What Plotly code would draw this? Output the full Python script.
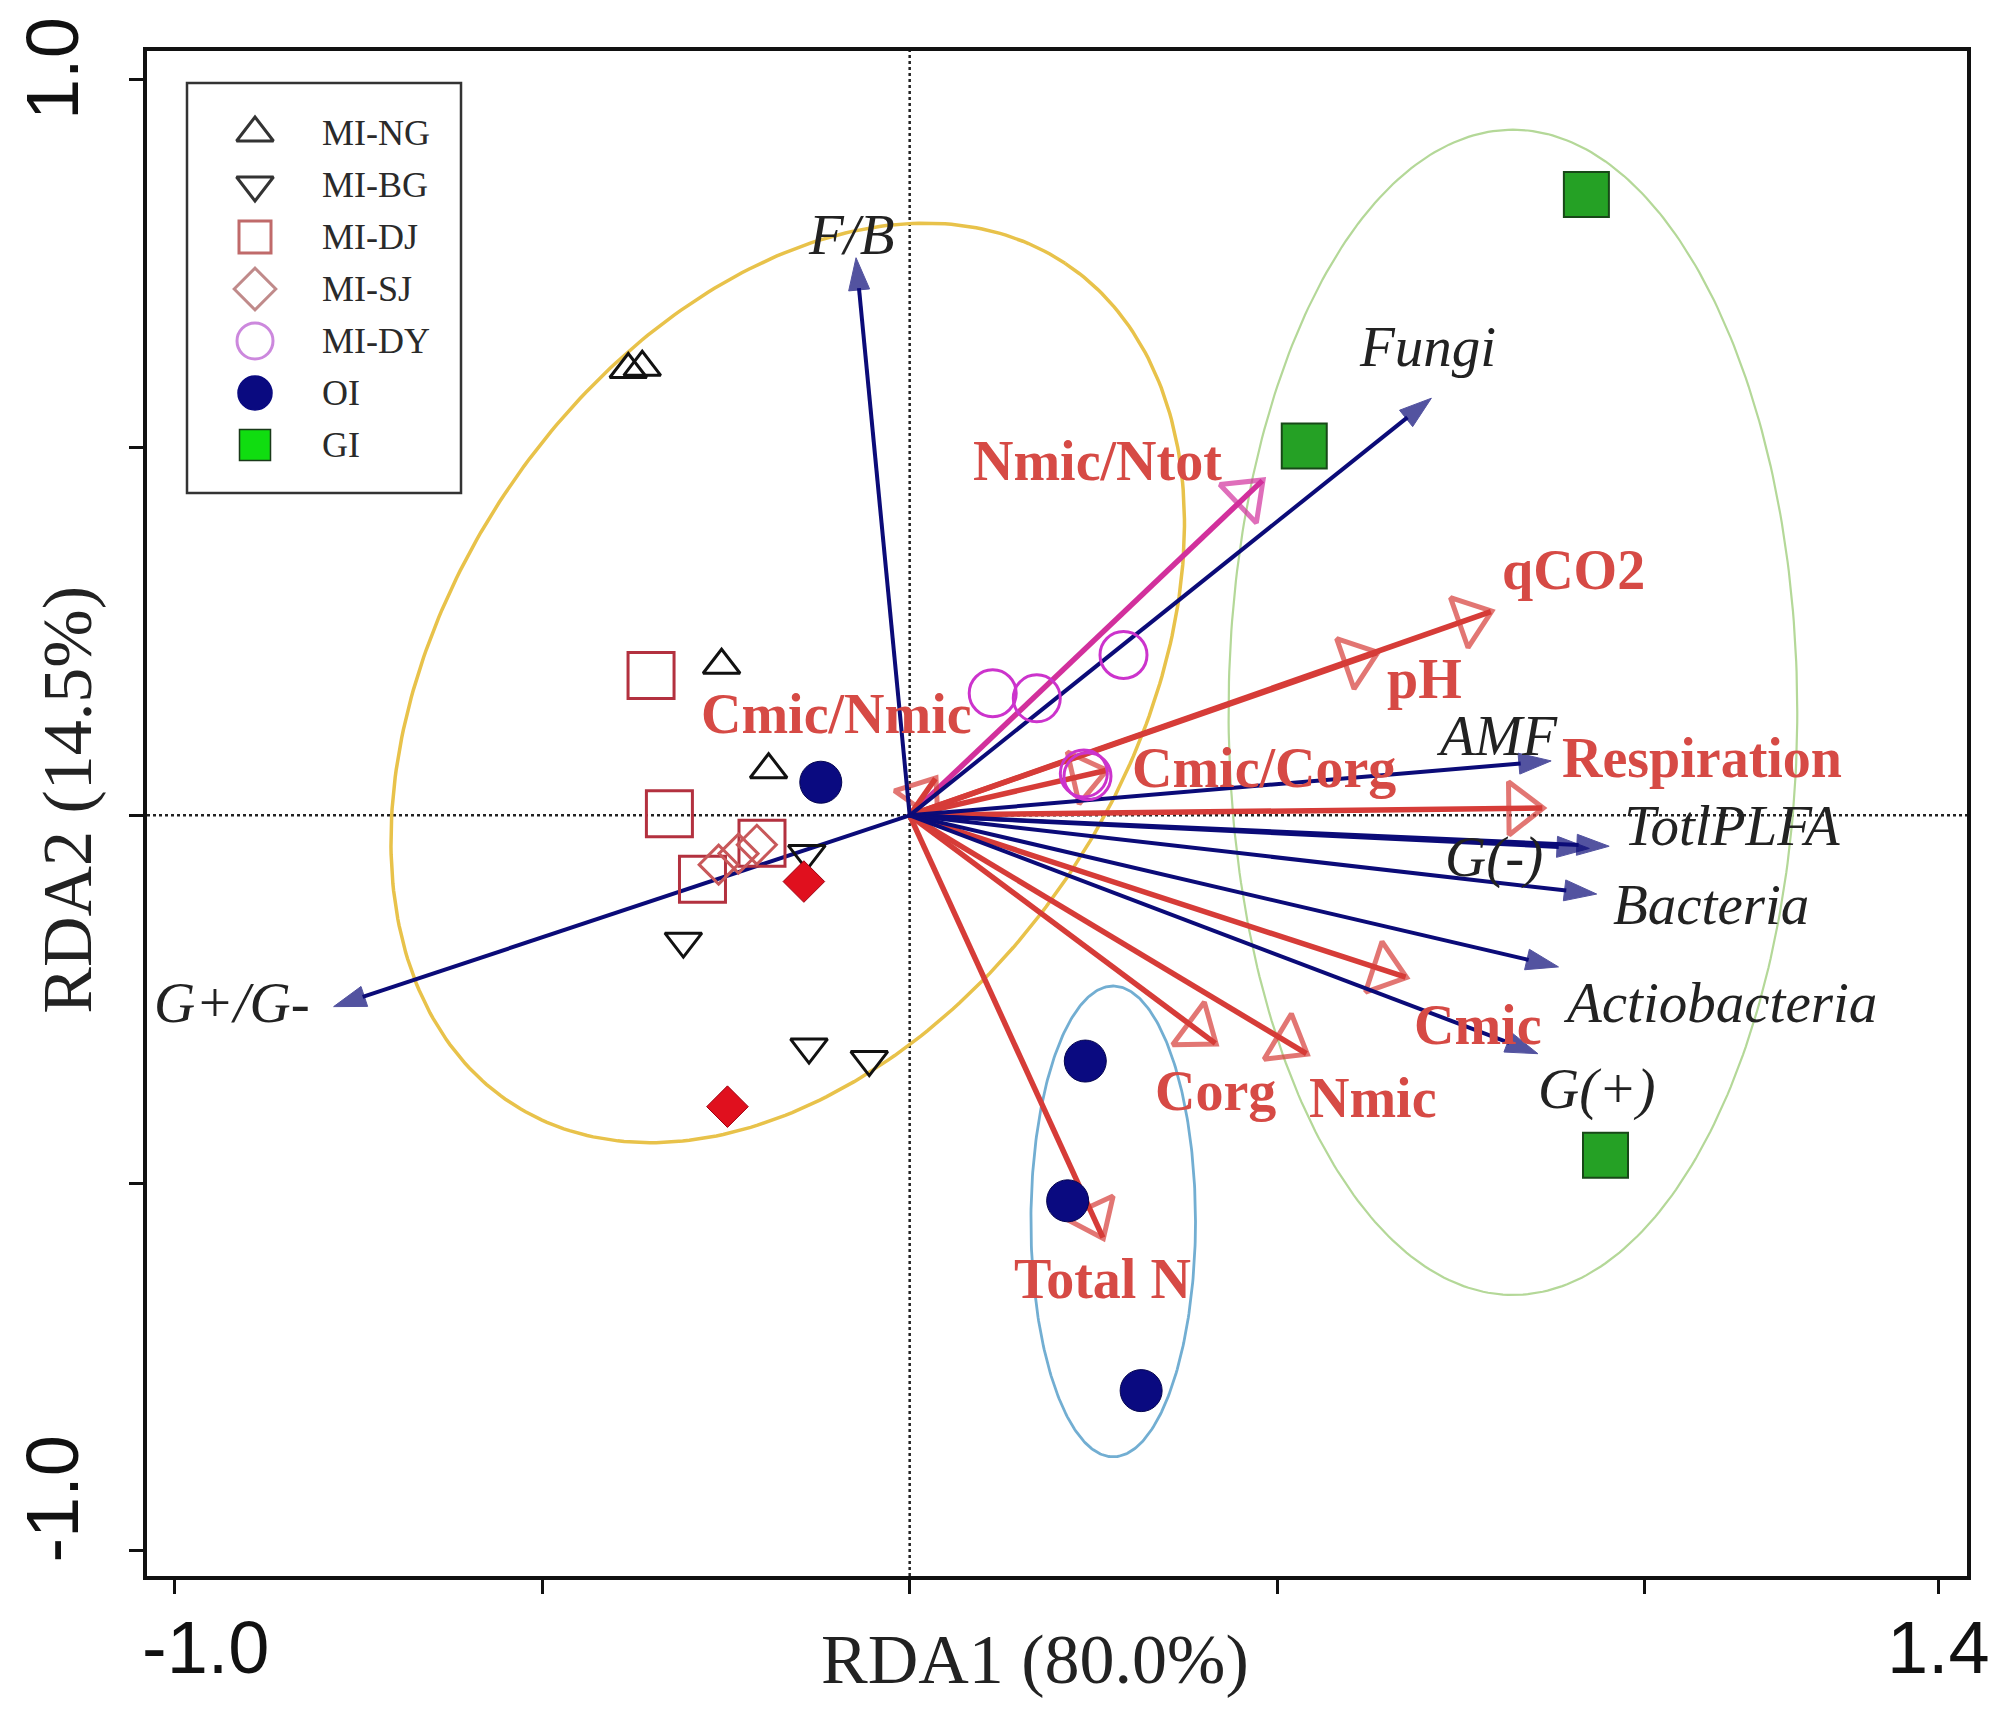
import numpy as np
import plotly.graph_objects as go

# ---------------- sample scores (RDA1, RDA2) ----------------
ng_x = [-0.383, -0.364, -0.256, -0.192]
ng_y = [0.606, 0.609, 0.204, 0.062]
bg_x = [-0.308, -0.137, -0.055, -0.140]
bg_y = [-0.171, -0.315, -0.332, -0.052]
dj_x = [-0.352, -0.327, -0.282, -0.201]
dj_y = [0.190, 0.002, -0.087, -0.038]
sj_x = [-0.260, -0.233, -0.208]
sj_y = [-0.067, -0.052, -0.040]
sj_fill_x = [-0.144, -0.248]
sj_fill_y = [-0.090, -0.396]
dy_x = [0.113, 0.173, 0.291, 0.237, 0.242]
dy_y = [0.166, 0.159, 0.218, 0.057, 0.053]
oi_x = [-0.121, 0.239, 0.215, 0.315]
oi_y = [0.045, -0.334, -0.524, -0.782]
gi_x = [0.921, 0.537, 0.947]
gi_y = [0.844, 0.502, -0.462]

# ---------------- microbial (response) arrows ----------------
species = ["F/B", "Fungi", "G+/G-", "AMF", "TotlPLFA", "G(-)", "Bacteria", "Actiobacteria", "G(+)"]
species_x = [-0.073, 0.710, -0.784, 0.873, 0.952, 0.925, 0.935, 0.883, 0.855]
species_y = [0.758, 0.567, -0.260, 0.074, -0.042, -0.045, -0.107, -0.206, -0.324]
species_lab_x = [-0.080, 0.705, -0.923, 0.800, 1.120, 0.795, 1.091, 1.103, 0.935]
species_lab_y = [0.789, 0.637, -0.254, 0.108, -0.014, -0.057, -0.121, -0.254, -0.372]

# ---------------- environmental arrows ----------------
env = ["Nmic/Ntot", "qCO2", "pH", "Cmic/Nmic", "Cmic/Corg", "Respiration", "Cmic", "Nmic", "Corg", "Total N"]
env_x = [0.480, 0.791, 0.636, 0.035, 0.267, 0.861, 0.675, 0.540, 0.416, 0.263]
env_y = [0.455, 0.277, 0.221, 0.050, 0.061, 0.010, -0.220, -0.324, -0.310, -0.574]
env_lab_x = [0.255, 0.904, 0.700, -0.099, 0.482, 1.078, 0.774, 0.630, 0.416, 0.263]
env_lab_y = [0.481, 0.334, 0.186, 0.138, 0.064, 0.078, -0.285, -0.384, -0.375, -0.630]

# ---------------- group ellipses ----------------
ell_cx = [-0.166, 0.821, 0.277]
ell_cy = [0.180, 0.140, -0.552]
ell_a = [0.684, 0.387, 0.112]
ell_b = [0.463, 0.792, 0.320]
ell_ang = [56.5, 0.0, 0.0]
ell_col = ["#e8c24a", "#b4d898", "#72aed2"]
ell_w = [3.5, 2.2, 2.8]

# ---------------- legend ----------------
leg_names = ["MI-NG", "MI-BG", "MI-DJ", "MI-SJ", "MI-DY", "OI", "GI"]
leg_symbols = ["triangle-up-open", "triangle-down-open", "square-open", "diamond-open",
               "circle-open", "circle", "square"]
leg_colors = ["#333333", "#333333", "#c06a6a", "#c08a8a", "#cc88dd", "#0a0a80", "#10dd10"]
leg_sizes = [32, 32, 32, 32, 36, 34, 31]

NAVY = "#0b0b78"
RED = "#d63c38"
MAGENTA = "#d2309c"
SERIF = "Liberation Serif, Times New Roman, serif"
NB = "\u00a0"

fig = go.Figure()

# ellipses
t = np.linspace(0, 2 * np.pi, 361)
for cx, cy, a, b, ang, col, w in zip(ell_cx, ell_cy, ell_a, ell_b, ell_ang, ell_col, ell_w):
    th = np.deg2rad(ang)
    ex = cx + a * np.cos(t) * np.cos(th) - b * np.sin(t) * np.sin(th)
    ey = cy + a * np.cos(t) * np.sin(th) + b * np.sin(t) * np.cos(th)
    fig.add_trace(go.Scatter(x=ex, y=ey, mode="lines", line=dict(color=col, width=w),
                             showlegend=False, hoverinfo="skip"))

# environmental arrows (open heads)
for name, tx, ty in zip(env, env_x, env_y):
    col = MAGENTA if name == "Nmic/Ntot" else RED
    fig.add_trace(go.Scatter(
        x=[0, tx], y=[0, ty], mode="lines+markers", name=name,
        line=dict(color=col, width=5.5),
        marker=dict(symbol="triangle-up-open", size=[0, 46], angleref="previous",
                    standoff=[0, 22], color=col, line=dict(color=col, width=5)),
        showlegend=False, hoverinfo="skip"))

# microbial arrows (filled heads)
for name, tx, ty in zip(species, species_x, species_y):
    fig.add_trace(go.Scatter(
        x=[0, tx], y=[0, ty], mode="lines+markers", name=name,
        line=dict(color=NAVY, width=4),
        marker=dict(symbol="arrow", size=[0, 34], angleref="previous", color=NAVY,
                    line=dict(width=1, color=NAVY)),
        showlegend=False, hoverinfo="skip"))

# sample points
def pts(x, y, name, symbol, size, color, fill=None, lw=2.5, lcol=None):
    fig.add_trace(go.Scatter(
        x=x, y=y, mode="markers", name=name, showlegend=False,
        marker=dict(symbol=symbol, size=size, color=fill if fill else color,
                    line=dict(color=lcol if lcol else color, width=lw)),
        hoverinfo="skip"))

pts(ng_x, ng_y, "MI-NG", "triangle-up-open", 32, "#111111", lw=3)
pts(bg_x, bg_y, "MI-BG", "triangle-down-open", 32, "#111111", lw=3)
pts(dj_x, dj_y, "MI-DJ", "square-open", 46, "#b3313f", lw=3)
pts(sj_x, sj_y, "MI-SJ", "diamond-open", 30, "#c8585a", lw=3)
pts(sj_fill_x, sj_fill_y, "MI-SJ", "diamond", 32, "#e0101e", lw=1, lcol="#a00010")
pts(dy_x, dy_y, "MI-DY", "circle-open", 47, "#cc33cc", lw=3)
pts(oi_x, oi_y, "OI", "circle", 42, "#0a0a80", lw=1, lcol="#050550")
pts(gi_x, gi_y, "GI", "square", 45, "#25a125", fill="#25a125", lw=2, lcol="#184818")

# legend (drawn in an overlay panel so the keys keep their real sizes)
LEG_LEFT, LEG_RIGHT, LEG_TOP, LEG_BOTTOM = 179, 453, 75, 485
KEY_X, TEXT_X, ROW0, ROW_STEP = 247, 312, 125, 52
PAD = 20
for i, (nm, sym, col, sz) in enumerate(zip(leg_names, leg_symbols, leg_colors, leg_sizes)):
    ry = ROW0 + ROW_STEP * i
    filled = not sym.endswith("open")
    fig.add_trace(go.Scatter(
        x=[KEY_X], y=[ry], xaxis="x2", yaxis="y2", mode="markers", name=nm, showlegend=False,
        marker=dict(symbol=sym, size=sz, color=col,
                    line=dict(color="#1a3a1a" if nm == "GI" else col, width=1.5 if filled else 3)),
        hoverinfo="skip"))
    fig.add_annotation(xref="x2", yref="y2", x=TEXT_X, y=ry, text=nm, showarrow=False,
                       xanchor="left", yanchor="middle",
                       font=dict(family=SERIF, size=36, color="#2a2a2a"))
fig.add_shape(type="rect", xref="x2", yref="y2", x0=LEG_LEFT, x1=LEG_RIGHT, y0=LEG_TOP, y1=LEG_BOTTOM,
              line=dict(color="#333333", width=2.5), fillcolor="rgba(0,0,0,0)")

# labels
for name, lx, ly in zip(species, species_lab_x, species_lab_y):
    fig.add_annotation(x=lx, y=ly, text=name, showarrow=False, xanchor="center", yanchor="middle",
                       font=dict(family=SERIF, size=57, color="#222222", style="italic"))
for name, lx, ly in zip(env, env_lab_x, env_lab_y):
    fig.add_annotation(x=lx, y=ly, text="<b>" + name + "</b>", showarrow=False,
                       xanchor="center", yanchor="middle",
                       font=dict(family=SERIF, size=56, color="#d64a45"))

# axis titles
fig.add_annotation(xref="paper", yref="paper", x=0.488, y=-0.055, text="RDA1 (80.0%)",
                   showarrow=False, xanchor="center", yanchor="middle",
                   font=dict(family=SERIF, size=70, color="#222222"))
fig.add_annotation(xref="paper", yref="paper", x=-0.0434, y=0.509, text="RDA2 (14.5%)",
                   showarrow=False, xanchor="center", yanchor="middle", textangle=-90,
                   font=dict(family=SERIF, size=70, color="#222222"))

# dotted zero lines
fig.add_shape(type="line", xref="x", yref="paper", x0=0, x1=0, y0=0, y1=1,
              line=dict(color="#222222", width=2.5, dash="dot"), layer="below")
fig.add_shape(type="line", xref="paper", yref="y", x0=0, x1=1, y0=0, y1=0,
              line=dict(color="#222222", width=2.5, dash="dot"), layer="below")

axis_common = dict(showgrid=False, zeroline=False, showline=True, linewidth=3.5, linecolor="#111111",
                   mirror=True, ticks="outside", ticklen=14, tickwidth=3, tickcolor="#111111",
                   automargin=False, ticklabeloverflow="allow",
                   tickfont=dict(family="Liberation Sans, Arial, sans-serif", size=74, color="#111111"))

W, H = 1996, 1712
ML, MR, MT, MB = 139, 37, 43, 144
pw, ph = W - ML - MR, H - MT - MB

fig.update_layout(
    width=W, height=H,
    margin=dict(l=ML, r=MR, t=MT, b=MB),
    paper_bgcolor="white", plot_bgcolor="white",
    xaxis=dict(range=[-1.038, 1.439], tickvals=[-1, -0.5, 0, 0.5, 1, 1.4],
               ticktext=[NB * 3 + "-1.0", "", "", "", "", "1.4"], ticklabelstandoff=-10, **axis_common),
    yaxis=dict(range=[-1.034, 1.039], tickvals=[-1, -0.5, 0, 0.5, 1],
               ticktext=[NB * 4 + "-1.0", "", "", "", "1.0"], tickangle=-90, ticklabelstandoff=22,
               **axis_common),
    xaxis2=dict(domain=[(LEG_LEFT - PAD - ML) / pw, (LEG_RIGHT + PAD - ML) / pw],
                range=[LEG_LEFT - PAD, LEG_RIGHT + PAD], anchor="y2",
                visible=False, fixedrange=True),
    yaxis2=dict(domain=[(H - MB - LEG_BOTTOM - PAD) / ph, (H - MB - LEG_TOP + PAD) / ph],
                range=[LEG_BOTTOM + PAD, LEG_TOP - PAD], anchor="x2",
                visible=False, fixedrange=True),
    showlegend=False,
)

fig.write_html("out.html")
